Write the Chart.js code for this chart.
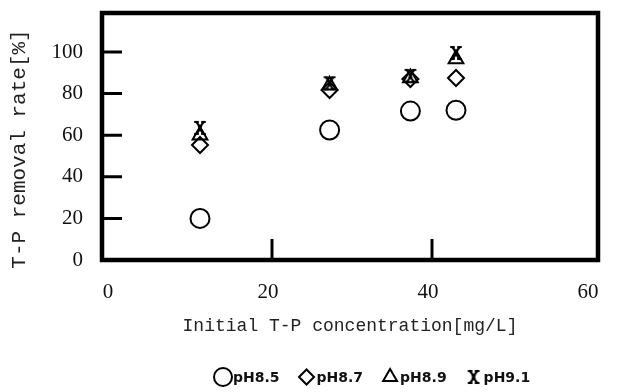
<!DOCTYPE html>
<html>
<head>
<meta charset="utf-8">
<script src="https://cdn.jsdelivr.net/npm/chart.js@4.4.0/dist/chart.umd.min.js"></script>
<style>
html,body{margin:0;padding:0;background:#fff}
#wrap{width:620px;height:392px}
</style>
</head>
<body>
<div id="wrap"><canvas id="c" width="620" height="392"></canvas></div>
<script>
/* T-P removal rate vs initial T-P concentration, 4 pH levels */
const SERIES = ['pH8.5','pH8.7','pH8.9','pH9.1'];
const CONC   = [11, 27.2, 37.3, 43];          // mg/L
const PH85   = [20, 62.5, 71.6, 72];
const PH87   = [55.3, 81.7, 87, 87.5];
const PH89   = [60, 84, 87.5, 96.6];
const PH91   = [63.5, 85, 88.5, 99.5];
const X_TICKS = [0,20,40,60];
const Y_TICKS = [0,20,40,60,80,100];
const X_INNER = [20,40];                      // inward tick marks
const Y_INNER = [20,40,60,80,100];
const X_TITLE = 'Initial T-P concentration[mg/L]';
const Y_TITLE = 'T-P removal rate[%]';

// curly "x" marker used for pH9.1
function curlMark(){
  const c=document.createElement('canvas');c.width=14;c.height=16;
  const g=c.getContext('2d');
  g.strokeStyle='#000';g.lineWidth=2.2;g.lineCap='round';
  g.beginPath();
  g.moveTo(3,2);g.quadraticCurveTo(10,8,3,14);
  g.moveTo(11,2);g.quadraticCurveTo(4,8,11,14);
  g.moveTo(2,2);g.lineTo(5,2);g.moveTo(9,2);g.lineTo(12,2);
  g.moveTo(2,14);g.lineTo(5,14);g.moveTo(9,14);g.lineTo(12,14);
  g.stroke();
  return c;
}
const CURL=curlMark();

const pts=arr=>CONC.map((x,i)=>({x,y:arr[i]}));
const STYLES=[
  {pointStyle:'circle',  radius:9.5, borderWidth:2},
  {pointStyle:'rectRot', radius:8,   borderWidth:2},
  {pointStyle:'triangle',radius:8.5, borderWidth:2},
  {pointStyle:CURL,      radius:8,   borderWidth:0},
];
const VALUES=[PH85,PH87,PH89,PH91];

const frame={id:'frame',
  afterDraw(chart){
    const ctx=chart.ctx, a=chart.chartArea, xs=chart.scales.x, ys=chart.scales.y;
    ctx.save();
    ctx.strokeStyle='#000';
    // inward ticks
    ctx.lineWidth=3;
    ctx.beginPath();
    Y_INNER.forEach(v=>{const y=ys.getPixelForValue(v);ctx.moveTo(a.left,y);ctx.lineTo(a.left+20,y);});
    X_INNER.forEach(v=>{const x=xs.getPixelForValue(v);ctx.moveTo(x,a.bottom);ctx.lineTo(x,a.bottom-21);});
    ctx.stroke();
    // box
    ctx.lineWidth=4.5;
    ctx.strokeRect(a.left,a.top,a.right-a.left,a.bottom-a.top);
    // axis titles
    ctx.fillStyle='#222';
    ctx.textAlign='center';ctx.textBaseline='middle';
    ctx.font='18px "Liberation Mono"';
    ctx.fillText(X_TITLE,(a.left+a.right)/2,326);
    ctx.save();
    ctx.translate(19,149);ctx.rotate(-Math.PI/2);
    ctx.font='21px "Liberation Mono"';
    ctx.fillText(Y_TITLE,0,0);
    ctx.restore();
    // legend
    let x=215; const y=377;
    ctx.font='bold 14px "DejaVu Sans"';ctx.textAlign='left';
    SERIES.forEach((name,i)=>{
      const st=STYLES[i];
      ctx.strokeStyle='#000';ctx.fillStyle='rgba(0,0,0,0)';ctx.lineWidth=st.borderWidth||1;
      Chart.helpers.drawPoint(ctx,{pointStyle:st.pointStyle,radius:st.radius-0.5,rotation:0,borderWidth:st.borderWidth||0},x+8,y);
      ctx.fillStyle='#111';
      ctx.fillText(name,x+18,y+1);
      x+=18+ctx.measureText(name).width+19;
    });
    ctx.restore();
  }};

new Chart(document.getElementById('c'),{
  type:'scatter',
  data:{datasets:SERIES.map((name,i)=>({
    label:name,data:pts(VALUES[i]),
    pointStyle:STYLES[i].pointStyle,pointRadius:STYLES[i].radius,
    pointBorderWidth:STYLES[i].borderWidth,
    borderColor:'#000',backgroundColor:'rgba(0,0,0,0)',
  }))},
  options:{responsive:false,animation:false,
    layout:{padding:{top:13,right:22,left:0,bottom:0}},
    plugins:{legend:{display:false},tooltip:{enabled:false}},
    scales:{
      x:{type:'linear',min:-1.25,max:60.75,
        afterBuildTicks:s=>{s.ticks=X_TICKS.map(v=>({value:v}));},
        afterFit:s=>{s.height=132;s.paddingLeft=0;s.paddingRight=0;},
        grid:{display:false,drawTicks:false},border:{display:false},
        ticks:{color:'#111',padding:20,labelOffset:-4,maxRotation:0,font:{family:'Liberation Serif',size:21}}},
      y:{type:'linear',min:0,max:118.75,
        afterBuildTicks:s=>{s.ticks=Y_TICKS.map(v=>({value:v}));},
        afterFit:s=>{s.width=102;s.paddingTop=0;s.paddingBottom=0;},
        grid:{display:false,drawTicks:false},border:{display:false},
        ticks:{color:'#111',padding:19,font:{family:'Liberation Serif',size:21}}}
    }},
  plugins:[frame]
});
</script>
</body>
</html>
